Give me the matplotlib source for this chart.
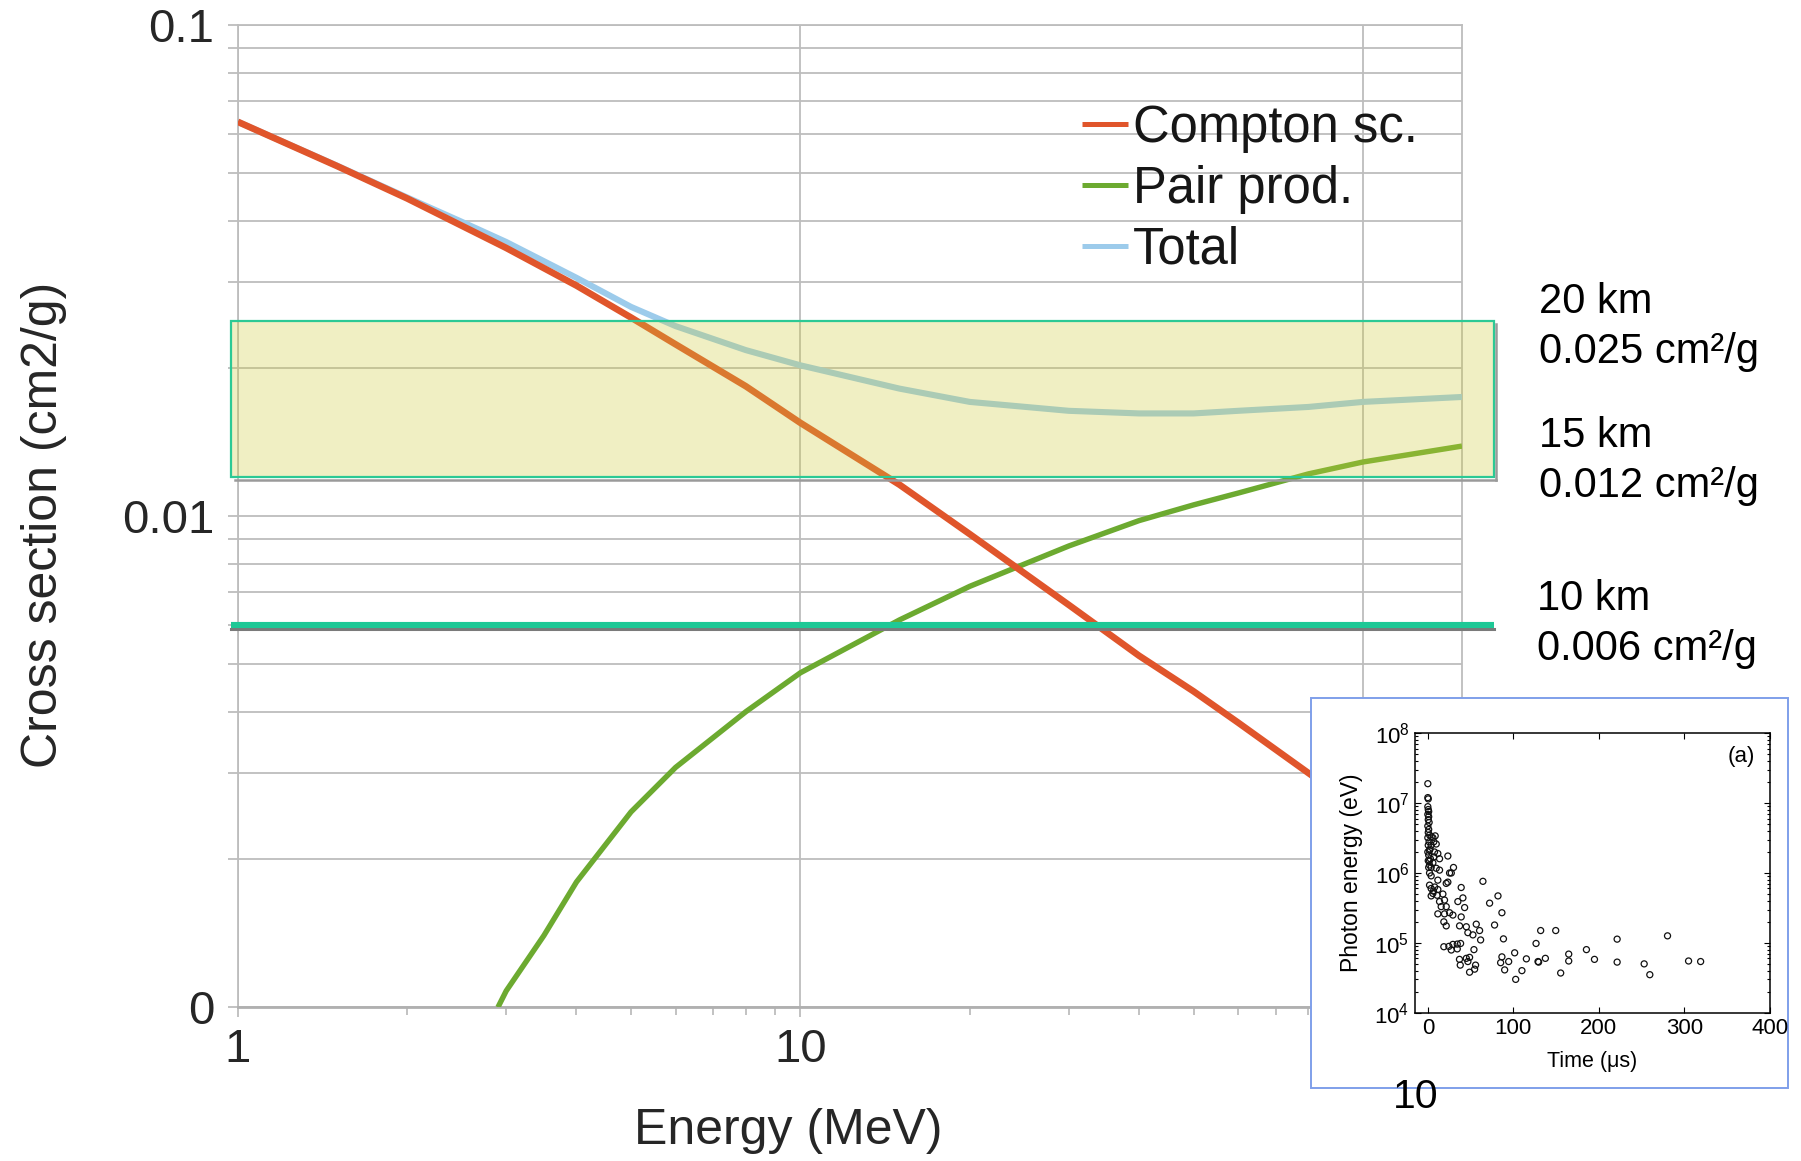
import numpy as np
import matplotlib
matplotlib.use('Agg')
import matplotlib.pyplot as plt
from matplotlib.patches import Rectangle
import matplotlib.transforms as mtransforms
import matplotlib.ticker as mticker

plt.rcParams['font.family'] = ['Liberation Sans', 'DejaVu Sans']

# cross sections in air (cm2/g) vs photon energy (MeV)
compton_E = [1, 1.5, 2, 3, 4, 5, 6, 8, 10, 15, 20, 30, 40, 50, 60, 80, 100, 150]
compton_xs = [0.0636, 0.0517, 0.0444, 0.0352, 0.0295, 0.0254, 0.0224, 0.0184, 0.0155,
              0.0116, 0.0092, 0.0066, 0.0052, 0.0044, 0.0038, 0.0030, 0.0025, 0.0018]

pair_E = [2.9, 3, 3.5, 4, 5, 6, 8, 10, 15, 20, 30, 40, 50, 60, 80, 100, 150]
pair_xs = [0.0010, 0.00108, 0.00140, 0.00180, 0.00250, 0.00308, 0.00400, 0.00480, 0.00615,
           0.00720, 0.00870, 0.00980, 0.01055, 0.01115, 0.01220, 0.01290, 0.01390]

total_E = [1, 1.5, 2, 2.5, 3, 4, 5, 6, 8, 10, 15, 20, 30, 40, 50, 60, 80, 100, 150]
total_xs = [0.0636, 0.0518, 0.0446, 0.0398, 0.0362, 0.0306, 0.0267, 0.0244, 0.0218, 0.0203,
            0.0182, 0.0171, 0.0164, 0.0162, 0.0162, 0.0164, 0.0167, 0.0171, 0.0175]

# altitude band values
band_20km = 0.025
band_15km = 0.012
level_10km = 0.006
alt_labels = ['20 km', '0.025 cm\u00b2/g', '15 km', '0.012 cm\u00b2/g', '10 km', '0.006 cm\u00b2/g']

# photon energies vs time (inset)
inset_time_us = [0, 0, 0.5, 0, 0.5, 1, 0, 1, 0.5, 1.5, 0, 1, 0.5, 2, 0, 1.5, 0.5, 2.5, 0, 1, 3, 0.5, 2, 1,
                 4, 5.9, 8.6, 7, 3.9, 9.8, 2, 7.8, 11.7, 7, 13.7, 2, 5.9, 3.9, 9.8, 13.7, 2, 3.9, 11.7,
                 2, 3.9, 5.9, 3.9, 11.7, 10.9, 6.5, 8,
                 23.4, 30, 25.4, 27.4, 23.4, 21.5, 39, 64.4,
                 17.6, 19.5, 13.7, 15.6, 21.5, 11.7, 19.5, 25.4, 29.3, 18.7, 21.5, 37.1, 39, 43, 35.1, 41,
                 45, 46.8, 52.7, 60.5, 56.6, 78, 72.2, 82, 86.6, 88.4, 131.9, 149.5, 61.7, 126.5,
                 18.7, 24.6, 29.3, 34.4, 38.3, 27.4, 34.4, 53.9,
                 37, 45, 48.8, 46.8, 37.9, 55.8, 54.7, 48.8,
                 86.6, 85.1, 94.5, 101.5, 89.8, 110, 102.7, 115.2, 128.8, 129.5, 137.4, 155.3, 164.7, 164.7,
                 185.4, 194.8, 221.3, 221.3, 252.9, 259.5, 280.2, 304.8, 318.9]
inset_energy_ev = [1.9e7, 1.2e7, 1.15e7, 8.9e6, 8.1e6, 7.6e6, 6.9e6, 6.4e6, 5.8e6, 5.3e6, 4.7e6, 4.2e6,
                   3.8e6, 3.5e6, 3.2e6, 2.8e6, 2.5e6, 2.2e6, 2.0e6, 1.8e6, 1.6e6, 1.5e6, 1.3e6, 1.2e6,
                   3.3e6, 3.2e6, 3.4e6, 2.8e6, 2.5e6, 2.6e6, 2.1e6, 2.0e6, 1.9e6, 1.7e6, 1.6e6, 1.5e6,
                   1.4e6, 1.2e6, 1.17e6, 1.1e6, 1.0e6, 9.1e5, 7.9e5,
                   6.7e5, 6.0e5, 5.1e5, 4.7e5, 5.8e5, 4.8e5, 5.5e5, 6.3e5,
                   1.75e6, 1.2e6, 1.0e6, 1.0e6, 7.4e5, 7.1e5, 6.2e5, 7.6e5,
                   5.0e5, 4.1e5, 3.9e5, 3.3e5, 3.3e5, 2.6e5, 2.6e5, 2.7e5, 2.5e5, 2.0e5, 1.75e5, 1.75e5,
                   2.35e5, 3.2e5, 3.9e5, 4.4e5,
                   1.7e5, 1.4e5, 1.3e5, 1.5e5, 1.85e5, 1.8e5, 3.7e5, 4.7e5, 2.7e5, 1.14e5, 1.5e5, 1.5e5,
                   1.1e5, 9.8e4,
                   8.8e4, 8.9e4, 9.5e4, 9.6e4, 9.8e4, 7.9e4, 8.2e4, 8.0e4,
                   5.8e4, 6.0e4, 6.2e4, 5.4e4, 4.8e4, 4.8e4, 4.2e4, 3.8e4,
                   6.3e4, 5.2e4, 5.4e4, 7.2e4, 4.1e4, 4.0e4, 3.0e4, 5.9e4, 5.4e4, 5.3e4, 6.0e4, 3.7e4,
                   6.9e4, 5.5e4,
                   8.0e4, 5.8e4, 1.13e5, 5.3e4, 5.0e4, 3.5e4, 1.26e5, 5.5e4, 5.4e4]

W, H = 1801, 1161
fig = plt.figure(figsize=(W / 100, H / 100), dpi=100)
fig.patch.set_facecolor('white')

grid_col = '#bdbdbd'
text_col = '#262626'

ax = fig.add_axes([237.8 / W, 1 - 1007.3 / H, 1224.2 / W, 982.0 / H])
ax.set_xscale('log')
ax.set_yscale('log')
ax.set_xlim(1, 150)
ax.set_ylim(0.001, 0.1)

ax.plot(total_E, total_xs, color='#9ccbeb', lw=4.4, label='Total', zorder=3, solid_capstyle='butt')
ax.plot(pair_E, pair_xs, color='#6caa30', lw=3.9, label='Pair prod.', zorder=3, solid_capstyle='butt')
ax.plot(compton_E, compton_xs, color='#e0552b', lw=4.8, label='Compton sc.', zorder=4, solid_capstyle='butt')

# axis ticks, grid
ax.yaxis.set_major_locator(mticker.FixedLocator([0.001, 0.01, 0.1]))
ax.yaxis.set_major_formatter(mticker.FixedFormatter(['0', '0.01', '0.1']))
ax.yaxis.set_minor_locator(mticker.LogLocator(base=10, subs=np.arange(2, 10)))
ax.yaxis.set_minor_formatter(mticker.NullFormatter())
ax.xaxis.set_major_locator(mticker.FixedLocator([1, 10, 100]))
ax.xaxis.set_major_formatter(mticker.FixedFormatter(['1', '10', '100']))
ax.xaxis.set_minor_locator(mticker.LogLocator(base=10, subs=np.arange(2, 10)))
ax.xaxis.set_minor_formatter(mticker.NullFormatter())

ax.grid(which='both', axis='y', color=grid_col, lw=1.3)
ax.grid(which='major', axis='x', color=grid_col, lw=1.3)
ax.set_axisbelow(True)
for s in ax.spines.values():
    s.set_color(grid_col)
    s.set_linewidth(1.3)
ax.spines['bottom'].set_color('#b0b0b0')
ax.spines['bottom'].set_linewidth(2)

ax.tick_params(axis='both', which='both', direction='out', color=grid_col, width=1.3,
               labelsize=34, labelcolor=text_col)
ax.tick_params(axis='y', which='both', length=7, pad=10)
ax.tick_params(axis='x', which='major', length=7, pad=8)
ax.tick_params(axis='x', which='minor', length=6)

ax.set_ylabel('Cross section (cm2/g)', fontsize=36, color=text_col)
ax.yaxis.set_label_coords(-0.1586, 0.491)
ax.yaxis.label.set_va('center')
ax.set_xlabel('Energy (MeV)', fontsize=36, color=text_col)
ax.xaxis.set_label_coords(0.4494, -0.126)
ax.xaxis.label.set_va('center')

handles, labels = ax.get_legend_handles_labels()
order = [2, 1, 0]
leg = ax.legend([handles[i] for i in order], [labels[i] for i in order],
                loc='upper left', bbox_to_anchor=(1082 / W, 1 - 104 / H), bbox_transform=fig.transFigure,
                frameon=False, fontsize=36.5, handlelength=0.9, handletextpad=0.1,
                labelspacing=0.23, borderpad=0, borderaxespad=0)
for t in leg.get_texts():
    t.set_color('#161616')
for ln in leg.get_lines():
    ln.set_linewidth(3.6)

# 15-20 km band and the 10 km level, spanning a bit past the axes
xa0, xa1 = -0.0056, 1.0264
ytr = ax.get_yaxis_transform()
shadow = mtransforms.offset_copy(ytr, fig=fig, x=2, y=-3, units='dots')
ax.plot([xa0 + 0.002, xa1], [band_15km, band_15km], transform=shadow, color='#9a9a9a',
        lw=1.8, clip_on=False, zorder=5)
ax.plot([xa1, xa1], [band_15km, band_20km], transform=shadow, color='#9a9a9a',
        lw=1.8, clip_on=False, zorder=5)
band = Rectangle((xa0, band_15km), xa1 - xa0, band_20km - band_15km, transform=ytr,
                 facecolor=(0.81, 0.80, 0.23, 0.30), edgecolor='#2cc995', lw=1.6,
                 clip_on=False, zorder=6)
ax.add_patch(band)

shadow2 = mtransforms.offset_copy(ytr, fig=fig, x=0, y=-3.5, units='dots')
ax.plot([xa0, xa1], [level_10km, level_10km], transform=shadow2, color='#7a7a7a',
        lw=2.2, clip_on=False, zorder=6)
ax.plot([xa0, xa1], [level_10km, level_10km], transform=ytr, color='#1ec896',
        lw=4.4, clip_on=False, zorder=7, solid_capstyle='butt')

# altitude annotations on the right
txt_x = [1539.3, 1539.3, 1539.3, 1539.3, 1536.7, 1536.7]
txt_base = [312.7, 363.3, 446.7, 496.7, 610, 660]
for lab, x, yb in zip(alt_labels, txt_x, txt_base):
    fig.text(x / W, 1 - yb / H, lab, fontsize=30, ha='left', va='baseline', color='black')

# inset panel: photon energy vs time
frame = Rectangle((1310.6 / W, 1 - 1087.7 / H), 477.8 / W, 389.4 / H, transform=fig.transFigure,
                  facecolor='white', edgecolor='#7f9fea', lw=1.4, zorder=5)
fig.add_artist(frame)

axi = fig.add_axes([1415 / W, 1 - 1012.7 / H, 355 / W, 279.4 / H], zorder=6)
axi.scatter(inset_time_us, inset_energy_ev, s=19, facecolors='none', edgecolors='#111111', linewidths=0.9)
axi.set_yscale('log')
axi.set_xlim(-15, 400)
axi.set_ylim(1e4, 1e8)
axi.set_xticks([0, 100, 200, 300, 400])
axi.yaxis.set_major_locator(mticker.LogLocator(base=10, numticks=10))
axi.yaxis.set_minor_locator(mticker.LogLocator(base=10, subs=np.arange(2, 10), numticks=10))
axi.yaxis.set_minor_formatter(mticker.NullFormatter())
axi.tick_params(which='both', direction='in', top=True, right=True, labelsize=16, pad=4, width=0.8)
axi.tick_params(which='major', length=4)
axi.tick_params(which='minor', length=2)
for s in axi.spines.values():
    s.set_linewidth(1.1)
axi.set_xlabel('Time (\u03bcs)', fontsize=15.5)
axi.xaxis.set_label_coords(0.5, -0.175)
axi.xaxis.label.set_va('center')
axi.set_ylabel('Photon energy (eV)', fontsize=16.5)
axi.yaxis.set_label_coords(-0.178, 0.5)
axi.yaxis.label.set_va('center')
axi.text(0.92, 0.916, '(a)', transform=axi.transAxes, fontsize=16, ha='center', va='center')

fig.text(1415.6 / W, 1 - 1108 / H, '10', fontsize=29.5, ha='center', va='baseline', zorder=8)

fig.savefig('out.png', dpi=100)
